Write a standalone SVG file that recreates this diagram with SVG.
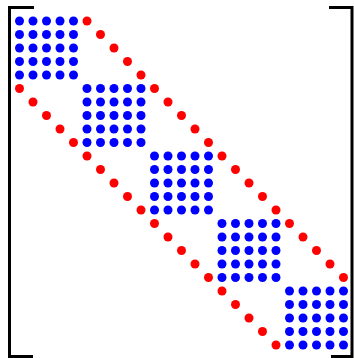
<svg xmlns="http://www.w3.org/2000/svg" xmlns:xlink="http://www.w3.org/1999/xlink" width="354" height="358" viewBox="0 0 354 358">
<style>
.b{fill:#0000ff}
.r{fill:#ff0000}
.br{fill:none;stroke:#000;stroke-width:3}
</style>
<defs>
<g id="blk" class="b">
<circle cx="0" cy="0" r="4.5"/><circle cx="13.5" cy="0" r="4.5"/><circle cx="27" cy="0" r="4.5"/><circle cx="40.5" cy="0" r="4.5"/><circle cx="54" cy="0" r="4.5"/>
<circle cx="0" cy="13.5" r="4.5"/><circle cx="13.5" cy="13.5" r="4.5"/><circle cx="27" cy="13.5" r="4.5"/><circle cx="40.5" cy="13.5" r="4.5"/><circle cx="54" cy="13.5" r="4.5"/>
<circle cx="0" cy="27" r="4.5"/><circle cx="13.5" cy="27" r="4.5"/><circle cx="27" cy="27" r="4.5"/><circle cx="40.5" cy="27" r="4.5"/><circle cx="54" cy="27" r="4.5"/>
<circle cx="0" cy="40.5" r="4.5"/><circle cx="13.5" cy="40.5" r="4.5"/><circle cx="27" cy="40.5" r="4.5"/><circle cx="40.5" cy="40.5" r="4.5"/><circle cx="54" cy="40.5" r="4.5"/>
<circle cx="0" cy="54" r="4.5"/><circle cx="13.5" cy="54" r="4.5"/><circle cx="27" cy="54" r="4.5"/><circle cx="40.5" cy="54" r="4.5"/><circle cx="54" cy="54" r="4.5"/>
</g>
<g id="diag" class="r">
<circle cx="0" cy="0" r="4.5"/><circle cx="13.5" cy="13.5" r="4.5"/><circle cx="27" cy="27" r="4.5"/><circle cx="40.5" cy="40.5" r="4.5"/><circle cx="54" cy="54" r="4.5"/>
<circle cx="67.5" cy="67.5" r="4.5"/><circle cx="81" cy="81" r="4.5"/><circle cx="94.5" cy="94.5" r="4.5"/><circle cx="108" cy="108" r="4.5"/><circle cx="121.5" cy="121.5" r="4.5"/>
<circle cx="135" cy="135" r="4.5"/><circle cx="148.5" cy="148.5" r="4.5"/><circle cx="162" cy="162" r="4.5"/><circle cx="175.5" cy="175.5" r="4.5"/><circle cx="189" cy="189" r="4.5"/>
<circle cx="202.5" cy="202.5" r="4.5"/><circle cx="216" cy="216" r="4.5"/><circle cx="229.5" cy="229.5" r="4.5"/><circle cx="243" cy="243" r="4.5"/><circle cx="256.5" cy="256.5" r="4.5"/>
</g>
</defs>
<rect width="354" height="358" fill="#fff"/>
<g id="brackets">
<path class="br" d="M34,7.5 H9.5 V356.5 H33"/>
<path class="br" d="M329,7.5 H352 V356.5 H331"/>
</g>
<g id="blocks">
<use xlink:href="#blk" href="#blk" x="19.5" y="21"/>
<use xlink:href="#blk" href="#blk" x="87" y="88.5"/>
<use xlink:href="#blk" href="#blk" x="154.5" y="156"/>
<use xlink:href="#blk" href="#blk" x="222" y="223.5"/>
<use xlink:href="#blk" href="#blk" x="289.5" y="291"/>
</g>
<g id="offdiagonals">
<use xlink:href="#diag" href="#diag" x="87" y="21"/>
<use xlink:href="#diag" href="#diag" x="19.5" y="88.5"/>
</g>
</svg>
